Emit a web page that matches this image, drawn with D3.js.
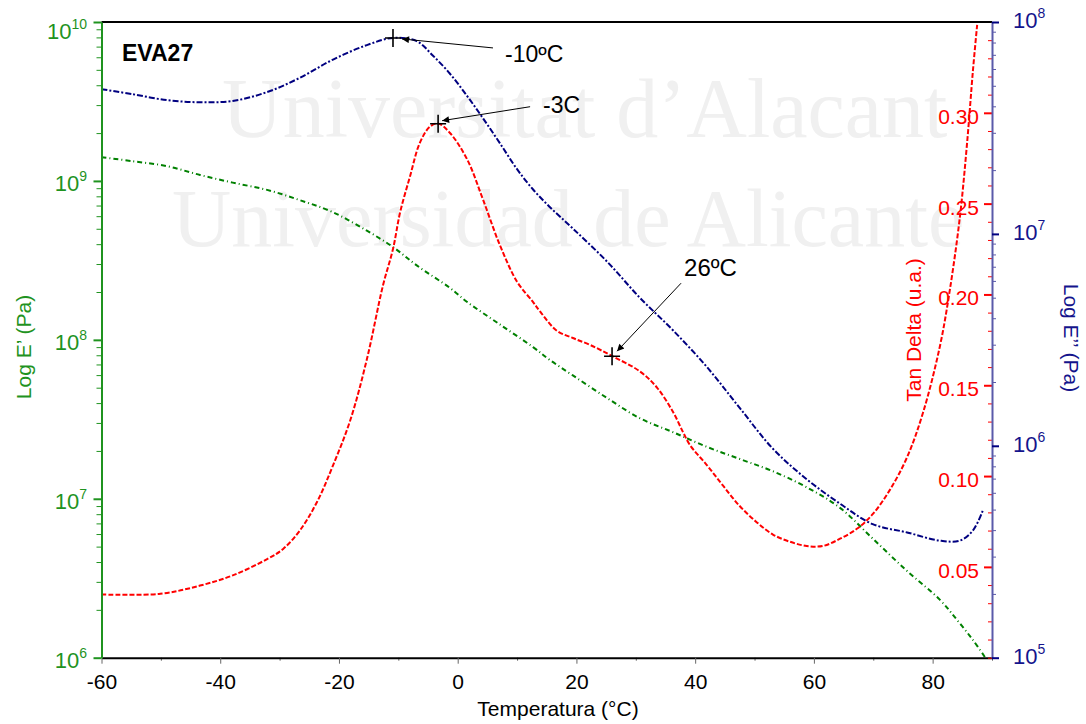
<!DOCTYPE html>
<html>
<head>
<meta charset="utf-8">
<script src="https://cdnjs.cloudflare.com/ajax/libs/d3/7.8.5/d3.min.js"></script>
<style>
body { margin: 0; background: #ffffff; }
</style>
</head>
<body>
<div id="chart"></div>
<script>
// E' (storage modulus, Pa)
var storageTemps = [-60, -54.7, -49.0, -43.4, -37.9, -32.1, -26.6, -21.0, -15.3, -10.9, -6.9, -1.3, 1.6, 7.1, 12.7, 15.5, 19.4, 25.1, 30.7, 36.3, 42.0, 47.5, 53.1, 58.8, 64.4, 69.9, 75.7, 81.2, 84.1, 86.8, 88.8];
var storageValues = [1.41e9, 1.33e9, 1.24e9, 1.09e9, 9.76e8, 8.78e8, 7.57e8, 6.35e8, 4.86e8, 3.84e8, 2.94e8, 2.12e8, 1.73e8, 1.25e8, 9.0e7, 7.48e7, 5.97e7, 4.32e7, 3.21e7, 2.62e7, 2.12e7, 1.78e7, 1.49e7, 1.18e7, 8.77e6, 5.62e6, 3.51e6, 2.32e6, 1.73e6, 1.29e6, 1.01e6];

// E'' (loss modulus, Pa)
var lossTemps = [-60, -54.7, -49.0, -43.4, -37.9, -32.1, -26.6, -21.0, -15.3, -10.9, -6.9, -4.2, -1.3, 1.6, 4.3, 7.1, 10.0, 12.7, 15.5, 19.4, 25.1, 30.7, 36.3, 42.0, 47.5, 53.1, 58.8, 64.4, 69.9, 75.7, 81.2, 84.6, 86.8, 88.5];
var lossValues = [4.82e7, 4.56e7, 4.28e7, 4.18e7, 4.24e7, 4.67e7, 5.45e7, 6.65e7, 7.78e7, 8.41e7, 8.12e7, 6.95e7, 5.70e7, 4.47e7, 3.50e7, 2.68e7, 2.02e7, 1.62e7, 1.34e7, 1.06e7, 7.43e6, 4.99e6, 3.50e6, 2.35e6, 1.51e6, 9.68e5, 6.95e5, 5.33e5, 4.27e5, 3.90e5, 3.57e5, 3.57e5, 3.99e5, 4.99e5];

// tan delta
var tanTemps = [-60, -50.1, -43.4, -37.9, -32.1, -29.4, -26.6, -23.7, -21.0, -18.1, -15.3, -12.6, -10.9, -9.7, -8.0, -6.4, -4.7, -3.3, -1.3, 1.6, 4.3, 7.1, 10.0, 12.7, 13.9, 16.7, 19.4, 22.3, 26.0, 30.7, 33.6, 36.3, 38.0, 39.1, 42.0, 44.7, 47.5, 50.4, 53.1, 56.0, 58.8, 61.5, 64.4, 67.3, 69.9, 72.8, 75.7, 78.4, 81.2, 82.9, 84.6, 85.8, 86.8, 87.5];
var tanValues = [0.0348, 0.0352, 0.0397, 0.0453, 0.0543, 0.0599, 0.0700, 0.0857, 0.1059, 0.1307, 0.1643, 0.2048, 0.2250, 0.2452, 0.2654, 0.2833, 0.2923, 0.2941, 0.2889, 0.2743, 0.2519, 0.2272, 0.2070, 0.1958, 0.1905, 0.1800, 0.1760, 0.1722, 0.1661, 0.1576, 0.1486, 0.1351, 0.1239, 0.1172, 0.1059, 0.0947, 0.0835, 0.0745, 0.0678, 0.0638, 0.0615, 0.0615, 0.0655, 0.0711, 0.0790, 0.0924, 0.1104, 0.1351, 0.1711, 0.2025, 0.2429, 0.2833, 0.3237, 0.3484];

// tick labels
var tempTicks = [-60, -40, -20, 0, 20, 40, 60, 80];
var storageDecades = [1e6, 1e7, 1e8, 1e9, 1e10];
var lossDecades = [1e5, 1e6, 1e7, 1e8];
var tanTicks = [0.05, 0.10, 0.15, 0.20, 0.25, 0.30];

// peak annotations
var markTemps = [-10.9, -3.3, 26.0];
var markValues = [8.41e7, 0.294, 0.166];
var markSeries = ['loss', 'tan', 'tan'];
var markLabels = ['-10ºC', '-3C', '26ºC'];

var sampleName = 'EVA27';
var watermarkLines = ['Universitat d\u2019Alacant', 'Universidad de Alicante'];

var fullWidth = 1086;
var fullHeight = 724;
var mainFont = '"Liberation Sans", Arial, sans-serif';
var serifFont = '"Liberation Serif", "Times New Roman", serif';

var green = '#008000';
var greenAxis = '#1f931f';
var blue = '#000080';
var blueAxis = '#5a5aaa';
var blueText = '#14148c';
var red = '#ff0000';

var plotLeft = 101.5, plotRight = 992, plotTop = 22, plotBottom = 657.7;

window.onload = function() {
    render();
};

function render() {
    var svg = d3.select('#chart').append('svg')
        .attr('width', fullWidth)
        .attr('height', fullHeight)
        .style('display', 'block');

    var x = d3.scaleLinear().domain([-60, 90]).range([plotLeft, plotRight]);
    var yStorage = d3.scaleLog().domain([1e6, 1e10]).range([plotBottom, plotTop]);
    var yLoss = d3.scaleLog().domain([1e5, 1e8]).range([plotBottom, plotTop]);
    var yTan = d3.scaleLinear().domain([0, 0.35]).range([plotBottom, plotTop]);

    // watermark behind everything
    var wmX = [222, 172];
    var wmY = [137, 246];
    var wmSize = [84, 82];
    watermarkLines.forEach(function(t, i) {
        svg.append('text')
            .attr('x', wmX[i])
            .attr('y', wmY[i])
            .style('font-family', serifFont)
            .style('font-size', wmSize[i] + 'px')
            .style('fill', '#f0f0f0')
            .text(t);
    });

    // curves
    function drawCurve(temps, vals, yScale, color, dash) {
        var pts = temps.map(function(t, i) { return [t, vals[i]]; });
        var line = d3.line()
            .x(function(d) { return x(d[0]); })
            .y(function(d) { return yScale(d[1]); })
            .curve(d3.curveCatmullRom.alpha(0.5));
        svg.append('path')
            .attr('d', line(pts))
            .attr('fill', 'none')
            .attr('stroke', color)
            .attr('stroke-width', 2)
            .attr('stroke-dasharray', dash);
    }
    drawCurve(storageTemps, storageValues, yStorage, green, '5,3,1,3');
    drawCurve(lossTemps, lossValues, yLoss, blue, '6,2,2,2');
    drawCurve(tanTemps, tanValues, yTan, red, '5,2');

    // minor tick values (log decades and tan steps)
    function logMinors(decades) {
        var out = [];
        for (var i = 0; i < decades.length - 1; i++) {
            for (var k = 2; k <= 9; k++) out.push(decades[i] * k);
        }
        return out;
    }
    var tanMinors = d3.range(0, 36).map(function(i) { return i / 100; })
        .filter(function(v) { return Math.round(v * 100) % 5 !== 0 || v === 0; });

    // top border
    svg.append('line')
        .attr('x1', plotLeft).attr('x2', plotRight)
        .attr('y1', plotTop).attr('y2', plotTop)
        .attr('stroke', '#000').attr('stroke-width', 2);

    // bottom axis
    var xAxisG = svg.append('g')
        .attr('transform', 'translate(0,' + plotBottom + ')');
    xAxisG.append('g')
        .call(d3.axisBottom(x).tickValues(d3.range(-50, 91, 20)).tickSize(3).tickFormat(''))
        .attr('color', '#666')
        .select('.domain').remove();
    var xMain = xAxisG.append('g')
        .call(d3.axisBottom(x).tickValues(tempTicks).tickSize(6).tickSizeOuter(0).tickPadding(10)
            .tickFormat(function(d) { return String(d); }))
        .attr('color', '#666');
    xMain.select('.domain').attr('stroke', '#000').attr('stroke-width', 2);
    xMain.selectAll('text')
        .style('font-family', mainFont)
        .style('font-size', '21px')
        .attr('fill', '#000');

    // left axis (E')
    var leftG = svg.append('g')
        .attr('transform', 'translate(' + plotLeft + ',0)')
        .attr('color', greenAxis);
    leftG.append('g')
        .call(d3.axisLeft(yStorage).tickValues(logMinors(storageDecades)).tickSize(5).tickFormat(''))
        .select('.domain').remove();
    var leftMain = leftG.append('g')
        .call(d3.axisLeft(yStorage).tickValues(storageDecades).tickSize(8).tickSizeOuter(0).tickFormat(''));
    leftMain.select('.domain').attr('stroke-width', 2);
    leftMain.selectAll('.tick line').attr('stroke-width', 2);

    storageDecades.forEach(function(d) {
        var yy = Math.max(yStorage(d) + 10, 39);
        var t = svg.append('text')
            .attr('x', 87)
            .attr('y', yy)
            .style('text-anchor', 'end')
            .style('font-family', mainFont)
            .style('font-size', '22px')
            .style('fill', greenAxis);
        t.append('tspan').text('10');
        t.append('tspan').attr('dy', -10).style('font-size', '14px').text(Math.round(Math.log10(d)));
    });

    // right axis (E'' outward, tan delta inward)
    var rightG = svg.append('g')
        .attr('transform', 'translate(' + plotRight + ',0)');
    rightG.append('g')
        .attr('color', red)
        .call(d3.axisLeft(yTan).tickValues(tanMinors).tickSize(4).tickFormat(''))
        .select('.domain').remove();
    var tanMain = rightG.append('g')
        .attr('color', red)
        .call(d3.axisLeft(yTan).tickValues(tanTicks).tickSize(8).tickFormat(''));
    tanMain.select('.domain').remove();
    tanMain.selectAll('.tick line').attr('stroke-width', 2);

    rightG.append('g')
        .attr('color', blueAxis)
        .call(d3.axisRight(yLoss).tickValues(logMinors(lossDecades)).tickSize(4).tickFormat(''))
        .select('.domain').remove();
    var lossMain = rightG.append('g')
        .attr('color', blueAxis)
        .call(d3.axisRight(yLoss).tickValues(lossDecades).tickSize(7).tickSizeOuter(0).tickFormat(''));
    lossMain.select('.domain').attr('stroke-width', 2);
    lossMain.selectAll('.tick line').attr('stroke', blue).attr('stroke-width', 2);

    tanTicks.forEach(function(v) {
        svg.append('text')
            .attr('x', 979)
            .attr('y', yTan(v) + 11)
            .style('text-anchor', 'end')
            .style('font-family', mainFont)
            .style('font-size', '21px')
            .style('fill', red)
            .text(v.toFixed(2));
    });

    lossDecades.forEach(function(d) {
        var t = svg.append('text')
            .attr('x', 1013)
            .attr('y', yLoss(d) + 6)
            .style('font-family', mainFont)
            .style('font-size', '22px')
            .style('fill', blueText);
        t.append('tspan').text('10');
        t.append('tspan').attr('dy', -10).style('font-size', '14px').text(Math.round(Math.log10(d)));
    });

    // axis titles
    svg.append('text')
        .attr('x', 558)
        .attr('y', 716)
        .style('text-anchor', 'middle')
        .style('font-family', mainFont)
        .style('font-size', '21px')
        .style('fill', '#000')
        .text('Temperatura (°C)');

    svg.append('text')
        .attr('transform', 'translate(31,347) rotate(-90)')
        .style('text-anchor', 'middle')
        .style('font-family', mainFont)
        .style('font-size', '21px')
        .style('fill', greenAxis)
        .text('Log E\u2019 (Pa)');

    svg.append('text')
        .attr('transform', 'translate(921,330) rotate(-90)')
        .style('text-anchor', 'middle')
        .style('font-family', mainFont)
        .style('font-size', '21px')
        .style('fill', red)
        .text('Tan Delta (u.a.)');

    svg.append('text')
        .attr('transform', 'translate(1064,338) rotate(90)')
        .style('text-anchor', 'middle')
        .style('font-family', mainFont)
        .style('font-size', '21px')
        .style('fill', blueText)
        .text('Log E\u2019\u2019 (Pa)');

    // sample name
    svg.append('text')
        .attr('x', 122)
        .attr('y', 61)
        .style('font-family', mainFont)
        .style('font-size', '23px')
        .style('font-weight', 'bold')
        .style('fill', '#000')
        .text(sampleName);

    // annotations: crosshair, arrow and label
    svg.append('defs').append('marker')
        .attr('id', 'arrow')
        .attr('viewBox', '0 0 10 10')
        .attr('refX', 10).attr('refY', 5)
        .attr('markerWidth', 11).attr('markerHeight', 7)
        .attr('markerUnits', 'userSpaceOnUse')
        .attr('orient', 'auto')
        .append('path')
        .attr('d', 'M0,0 L10,5 L0,10 z')
        .attr('fill', '#000');

    var tailOff = [[100, 10], [92, -17], [69, -73]];
    var tipOff = [[9, 1], [4, -3], [5, -5]];
    var textOff = [[112, 24], [105, -11], [72, -80]];
    var textSize = [23, 23, 24];

    markTemps.forEach(function(t, i) {
        var mx = x(t);
        var my = markSeries[i] === 'loss' ? yLoss(markValues[i]) : yTan(markValues[i]);

        svg.append('path')
            .attr('d', 'M' + (mx - 8) + ',' + my + 'H' + (mx + 8) + 'M' + mx + ',' + (my - 9) + 'V' + (my + 9))
            .attr('stroke', '#000')
            .attr('stroke-width', 1.6);

        svg.append('line')
            .attr('x1', mx + tailOff[i][0]).attr('y1', my + tailOff[i][1])
            .attr('x2', mx + tipOff[i][0]).attr('y2', my + tipOff[i][1])
            .attr('stroke', '#000')
            .attr('stroke-width', 1)
            .attr('marker-end', 'url(#arrow)');

        svg.append('text')
            .attr('x', mx + textOff[i][0])
            .attr('y', my + textOff[i][1])
            .style('font-family', mainFont)
            .style('font-size', textSize[i] + 'px')
            .style('fill', '#000')
            .text(markLabels[i]);
    });
}
</script>
</body>
</html>
